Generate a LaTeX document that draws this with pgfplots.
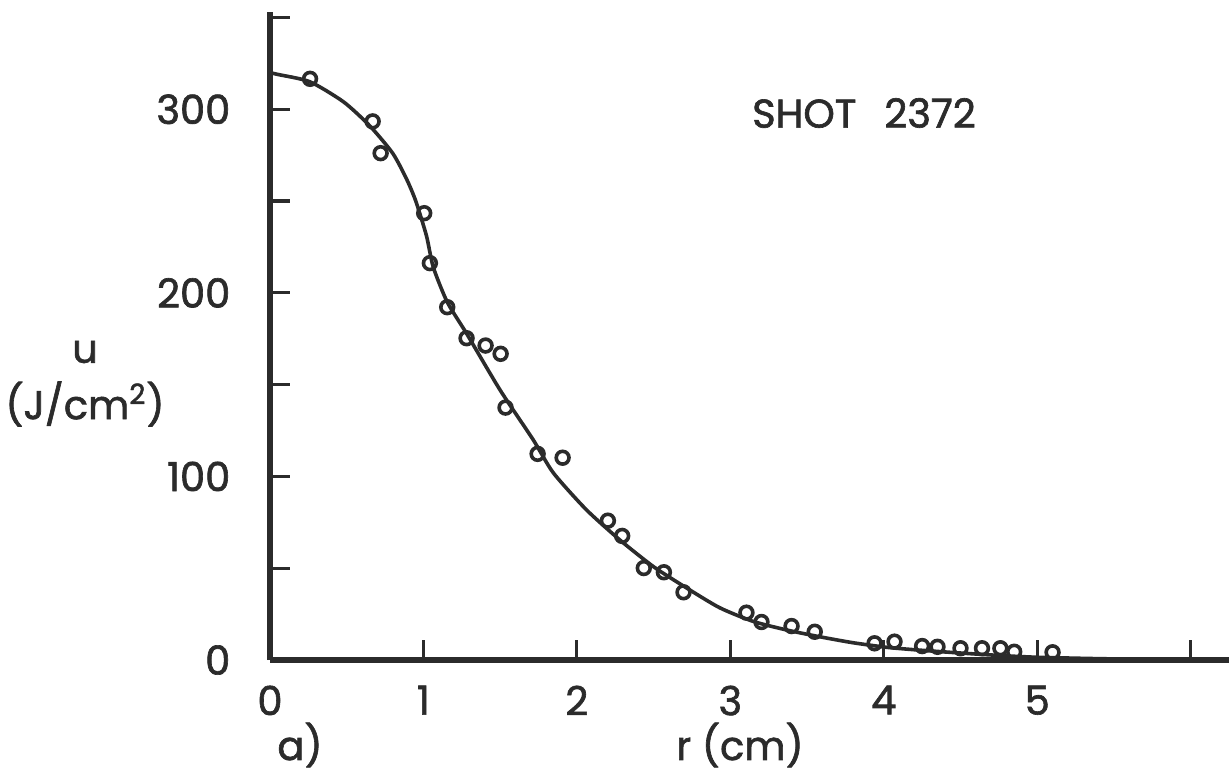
\documentclass[border=0pt]{standalone}
\usepackage{fontspec}
\setmainfont{Poppins}[FakeBold=1.6]
\usepackage{pgfplots}
\pgfplotsset{compat=1.18}
\definecolor{ink}{HTML}{2B2B2B}

% measured points, shot 2372
\pgfplotstableread{
r u
0.261 316.6
0.669 293.4
0.721 276.1
1.005 243.4
1.042 216.2
1.155 192.2
1.281 175.3
1.405 171.3
1.503 166.8
1.535 137.5
1.744 112.3
1.907 110.2
2.202 75.9
2.295 67.6
2.436 50.1
2.567 47.8
2.695 36.9
3.105 25.8
3.203 20.7
3.399 18.5
3.550 15.4
3.940 9.1
4.070 10.0
4.250 7.6
4.350 7.2
4.500 6.4
4.640 6.4
4.760 6.4
4.850 4.5
5.100 4.2
}\shotdata

% fitted curve
\pgfplotstableread{
r u
0.00 320
0.05 319
0.26 315
0.48 304
0.65 291
0.80 276
0.89 262
0.95 250
1.02 231
1.064 214
1.155 195
1.28 178
1.50 147
1.715 120
1.846 102
2.06 82
2.28 65.4
2.50 50.8
2.71 39.5
2.93 28.5
3.15 21
3.37 16.3
3.58 12.7
3.80 9.4
4.02 6.9
4.23 5.4
4.50 3.8
4.75 2.5
5.00 1.5
5.50 0.6
6.25 0.2
}\fitcurve

\begin{document}
\fontsize{20}{24}\selectfont
\begin{tikzpicture}
\useasboundingbox (-135pt,-61pt) rectangle (479.5pt,330pt);
\begin{axis}[
  at={(0,0)}, anchor=south west,
  scale only axis,
  width=479.5pt, height=324pt,
  xmin=0, xmax=6.25,
  ymin=0, ymax=353,
  axis lines=left,
  axis line style={-, line width=3pt, color=ink},
  tick align=inside,
  major tick length=10pt,
  tick style={line width=1.6pt, color=ink},
  xtick={0,1,2,3,4,5,6},
  xticklabels={0,1,2,3,4,5,},
  ytick={0,50,100,150,200,250,300,350},
  yticklabels={0,,100,,200,,300,},
  /pgf/number format/assume math mode=true,
  ticklabel style={font=\fontsize{20}{24}\selectfont, text=ink},
  xticklabel style={yshift=-6pt},
  yticklabel style={xshift=-13pt},
  clip=false,
]
\addplot[ink, line width=1.8pt, smooth, tension=0.4] table[x=r, y=u] {\fitcurve};
\addplot[only marks, mark=o, mark size=3.2pt,
  mark options={line width=1.8pt, draw=ink, fill=white}] table[x=r, y=u] {\shotdata};
\end{axis}
\node[text=ink] at (297pt,273.5pt) {SHOT\hspace{0.7em}2372};
\node[text=ink] at (-92.5pt,154pt) {u};
\node[text=ink] at (-92.5pt,128pt) {(J/cm\textsuperscript{2})};
\node[text=ink] at (15pt,-42.5pt) {a)};
\node[text=ink] at (235pt,-42.5pt) {r (cm)};
\end{tikzpicture}
\end{document}
